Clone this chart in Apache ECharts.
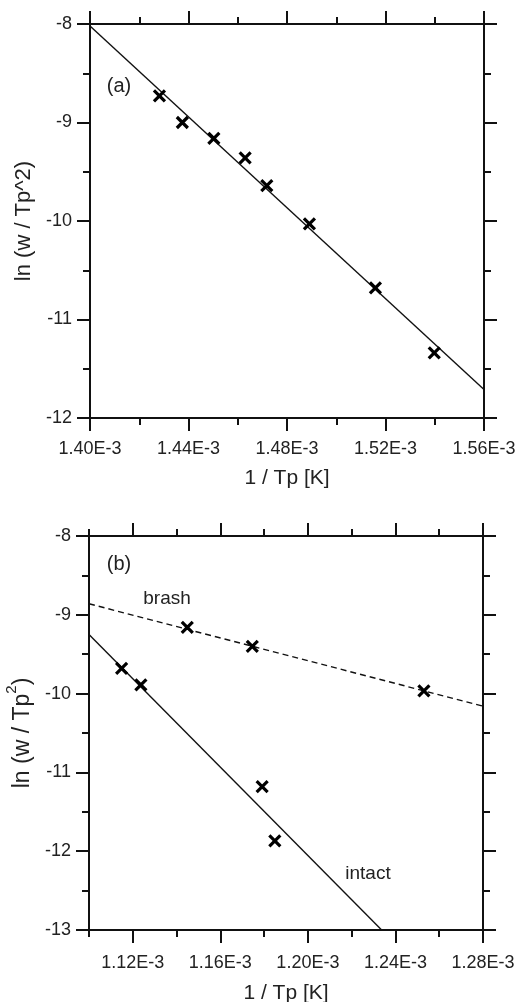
<!DOCTYPE html>
<html><head><meta charset="utf-8">
<script src="https://cdn.jsdelivr.net/npm/echarts@6/dist/echarts.min.js"></script>
<style>html,body{margin:0;padding:0;background:#fff}#c{width:520px;height:1002px}</style>
</head><body><div id="c"></div>
<script>
// x values are in units of 1E-3 (1/K)
const aX = [1.4282, 1.4375, 1.4503, 1.4630, 1.4718, 1.4891, 1.5159, 1.5398];
const aY = [-8.73, -9.00, -9.16, -9.36, -9.64, -10.03, -10.68, -11.34];
const aFitX = [1.40, 1.56];
const aFitY = [-8.02, -11.71];

const brashX = [1.1449, 1.1746, 1.2530];
const brashY = [-9.16, -9.40, -9.965];
const brashFitX = [1.10, 1.28];
const brashFitY = [-8.86, -10.16];

const intactX = [1.1149, 1.1237, 1.1791, 1.1849];
const intactY = [-9.68, -9.89, -11.18, -11.87];
const intactFitX = [1.10, 1.2337];
const intactFitY = [-9.25, -13.0];

const bXMajor = [1.12, 1.16, 1.20, 1.24, 1.28];

const FONT = '"Liberation Sans", Arial, Helvetica, sans-serif';
const INK = '#111';
const TXT = '#222';
const zip = (xs, ys) => xs.map((x, i) => [x, ys[i]]);
const fmtX = v => v.toFixed(2) + 'E-3';

const axisLine = { show: true, onZero: false, lineStyle: { color: INK, width: 2 } };
const tickMaj = { show: true, length: 13, lineStyle: { color: INK, width: 2 } };
const tickMin = { show: true, splitNumber: 2, length: 7, lineStyle: { color: INK, width: 2 } };
const noSplit = { show: false };
const labelStyle = { fontSize: 18, fontFamily: FONT, color: TXT };

const crossSymbol = 'path://M0,0L10,10M10,0L0,10';

function scatter(x, y, xi, yi) {
  return {
    type: 'scatter', xAxisIndex: xi, yAxisIndex: yi, data: zip(x, y),
    symbol: crossSymbol, symbolSize: 11,
    itemStyle: { color: '#000', borderColor: '#000', borderWidth: 3.2, opacity: 1 },
    silent: true, z: 5
  };
}
function fit(x, y, xi, yi, type) {
  return {
    type: 'line', xAxisIndex: xi, yAxisIndex: yi, data: zip(x, y),
    showSymbol: false, symbol: 'none', silent: true,
    lineStyle: { color: INK, width: 1.4, type: type || 'solid', opacity: 1 }
  };
}

const chart = echarts.init(document.getElementById('c'), null, { renderer: 'canvas' });
chart.setOption({
  animation: false,
  backgroundColor: '#fff',
  grid: [
    { left: 90, top: 24, width: 394, height: 394, outerBoundsMode: 'none', containLabel: false },
    { left: 89, top: 536, width: 394, height: 394, outerBoundsMode: 'none', containLabel: false }
  ],
  xAxis: [
    // panel a bottom
    { type: 'value', gridIndex: 0, position: 'bottom', min: 1.40, max: 1.56, interval: 0.04,
      axisLine, axisTick: tickMaj, minorTick: tickMin, splitLine: noSplit,
      axisLabel: Object.assign({ margin: 22, formatter: fmtX }, labelStyle),
      name: '1 / Tp [K]', nameLocation: 'middle', nameGap: 50,
      nameTextStyle: { fontSize: 21, fontFamily: FONT, color: TXT } },
    // panel a top
    { type: 'value', gridIndex: 0, position: 'top', min: 1.40, max: 1.56, interval: 0.04,
      axisLine, axisTick: tickMaj, minorTick: tickMin, splitLine: noSplit,
      axisLabel: { show: false } },
    // panel b bottom (minor)
    { type: 'value', gridIndex: 1, position: 'bottom', min: 1.10, max: 1.28, interval: 0.02,
      axisLine, axisTick: Object.assign({}, tickMin), splitLine: noSplit,
      axisLabel: { show: false } },
    // panel b bottom (major + labels)
    { type: 'value', gridIndex: 1, position: 'bottom', min: 1.10, max: 1.28, interval: 0.02,
      axisLine, axisTick: Object.assign({ customValues: bXMajor }, tickMaj), splitLine: noSplit,
      axisLabel: Object.assign({ margin: 24, formatter: fmtX, customValues: bXMajor }, labelStyle),
      name: '1 / Tp [K]', nameLocation: 'middle', nameGap: 53,
      nameTextStyle: { fontSize: 21, fontFamily: FONT, color: TXT } },
    // panel b top (minor)
    { type: 'value', gridIndex: 1, position: 'top', min: 1.10, max: 1.28, interval: 0.02,
      axisLine, axisTick: Object.assign({}, tickMin), splitLine: noSplit,
      axisLabel: { show: false } },
    // panel b top (major)
    { type: 'value', gridIndex: 1, position: 'top', min: 1.10, max: 1.28, interval: 0.02,
      axisLine, axisTick: Object.assign({ customValues: bXMajor }, tickMaj), splitLine: noSplit,
      axisLabel: { show: false } }
  ],
  yAxis: [
    { type: 'value', gridIndex: 0, position: 'left', min: -12, max: -8, interval: 1,
      axisLine, axisTick: tickMaj, minorTick: tickMin, splitLine: noSplit,
      axisLabel: Object.assign({ margin: 18 }, labelStyle),
      name: 'ln (w / Tp^2)', nameLocation: 'middle', nameGap: 53, nameRotate: 90,
      nameTextStyle: { fontSize: 22, fontFamily: FONT, color: TXT } },
    { type: 'value', gridIndex: 0, position: 'right', min: -12, max: -8, interval: 1,
      axisLine, axisTick: tickMaj, minorTick: tickMin, splitLine: noSplit,
      axisLabel: { show: false } },
    { type: 'value', gridIndex: 1, position: 'left', min: -13, max: -8, interval: 1,
      axisLine, axisTick: tickMaj, minorTick: tickMin, splitLine: noSplit,
      axisLabel: Object.assign({ margin: 18 }, labelStyle),
      name: '{a|ln (w / Tp}{s|2}{a|)}', nameLocation: 'middle', nameGap: 45, nameRotate: 90,
      nameTextStyle: { fontFamily: FONT, color: TXT, rich: {
        a: { fontSize: 23, fontFamily: FONT, color: TXT, lineHeight: 36 },
        s: { fontSize: 15, fontFamily: FONT, color: TXT, lineHeight: 15, verticalAlign: 'top' }
      } } },
    { type: 'value', gridIndex: 1, position: 'right', min: -13, max: -8, interval: 1,
      axisLine, axisTick: tickMaj, minorTick: tickMin, splitLine: noSplit,
      axisLabel: { show: false } }
  ],
  graphic: [
    { type: 'text', x: 119, y: 86, style: { text: '(a)', font: '20px ' + FONT, fill: TXT, align: 'center', verticalAlign: 'middle', textAlign: 'center', textVerticalAlign: 'middle' } },
    { type: 'text', x: 119, y: 564, style: { text: '(b)', font: '20px ' + FONT, fill: TXT, align: 'center', verticalAlign: 'middle', textAlign: 'center', textVerticalAlign: 'middle' } },
    { type: 'text', x: 167, y: 599, style: { text: 'brash', font: '19px ' + FONT, fill: TXT, align: 'center', verticalAlign: 'middle', textAlign: 'center', textVerticalAlign: 'middle' } },
    { type: 'text', x: 368, y: 874, style: { text: 'intact', font: '19px ' + FONT, fill: TXT, align: 'center', verticalAlign: 'middle', textAlign: 'center', textVerticalAlign: 'middle' } }
  ],
  series: [
    fit(aFitX, aFitY, 0, 0),
    scatter(aX, aY, 0, 0),
    fit(brashFitX, brashFitY, 3, 2, [6, 4]),
    scatter(brashX, brashY, 3, 2),
    fit(intactFitX, intactFitY, 3, 2),
    scatter(intactX, intactY, 3, 2)
  ]
});
</script></body></html>
